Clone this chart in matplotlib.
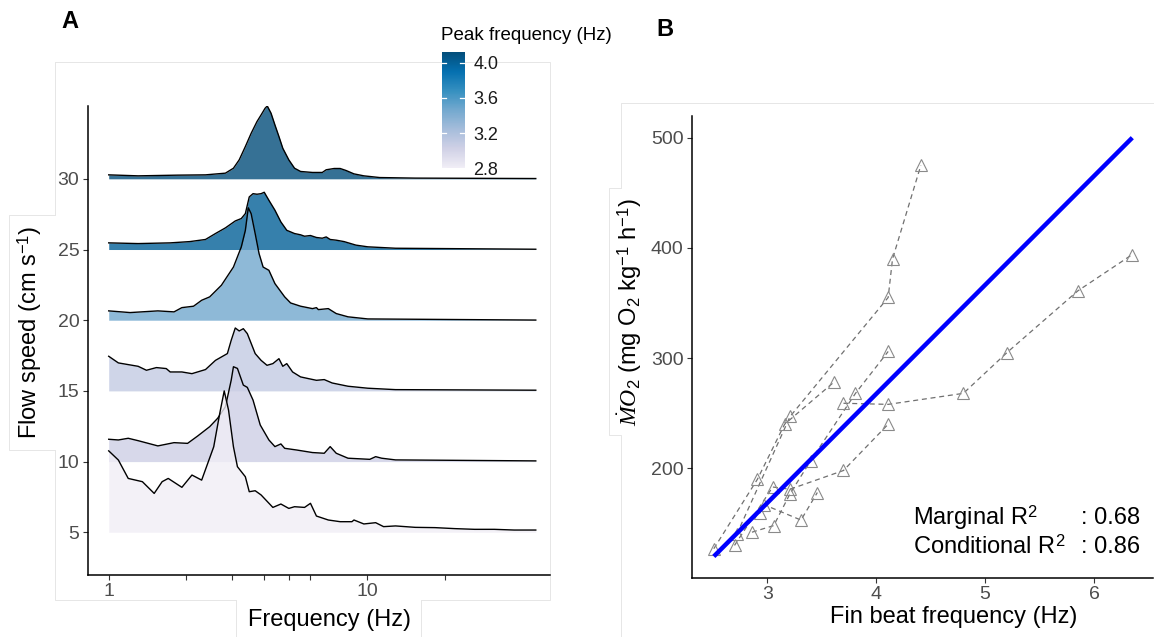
import matplotlib
matplotlib.use("Agg")
import matplotlib.pyplot as plt
import numpy as np
from matplotlib.colors import LinearSegmentedColormap, Normalize
from matplotlib.cm import ScalarMappable
from matplotlib.ticker import FixedLocator, FixedFormatter, NullFormatter
from matplotlib.lines import Line2D

plt.rcParams['font.family'] = ['Liberation Sans', 'DejaVu Sans']
plt.rcParams['mathtext.fontset'] = 'custom'
plt.rcParams['mathtext.rm'] = 'Liberation Sans'
plt.rcParams['mathtext.it'] = 'Liberation Serif:italic'
plt.rcParams['mathtext.bf'] = 'Liberation Sans:bold'

# ---------------- Panel A data: power spectra per flow speed ----------------
speeds = [30, 25, 20, 15, 10, 5]
peak_freq = [4.12, 4.00, 3.47, 3.09, 3.04, 2.80]

freq_30 = [1.00, 1.30, 1.85, 2.37, 2.83, 3.04, 3.20, 3.38, 3.56, 3.75, 3.89, 4.03, 4.11, 4.25, 4.40,
           4.56, 4.72, 4.98, 5.24, 5.53, 6.15, 6.71, 6.95, 7.46, 7.87, 8.29, 8.90, 9.72, 11.19, 15.37, 45.0]
power_30 = [0.28, 0.21, 0.26, 0.28, 0.40, 0.75, 1.34, 2.28, 3.22, 4.05, 4.52, 4.99, 5.15, 4.64, 3.81,
            2.99, 2.16, 1.34, 0.75, 0.52, 0.45, 0.45, 0.64, 0.73, 0.73, 0.59, 0.35, 0.21, 0.09, 0.05, 0.02]

freq_25 = [1.00, 1.30, 1.73, 2.06, 2.37, 2.59, 2.83, 3.09, 3.26, 3.38, 3.50, 3.62, 3.75, 3.89, 4.00,
           4.17, 4.40, 4.64, 4.89, 5.24, 5.53, 5.73, 6.04, 6.37, 6.71, 6.95, 7.20, 7.60, 8.15, 9.06,
           10.07, 12.89, 45.0]
power_25 = [0.47, 0.42, 0.47, 0.56, 0.71, 1.13, 1.53, 2.02, 2.19, 2.54, 3.72, 3.95, 3.91, 3.95, 4.05,
            3.48, 2.78, 1.95, 1.36, 1.13, 1.04, 0.94, 0.99, 0.85, 0.80, 0.89, 0.71, 0.66, 0.56, 0.31,
            0.19, 0.09, 0.02]

freq_20 = [1.00, 1.21, 1.55, 1.79, 1.92, 2.13, 2.29, 2.46, 2.73, 3.04, 3.26, 3.38, 3.47, 3.56, 3.69,
           3.82, 3.96, 4.17, 4.40, 4.80, 5.06, 5.53, 6.15, 6.37, 6.48, 7.08, 7.60, 8.44, 10.07, 45.0]
power_20 = [0.66, 0.54, 0.66, 0.59, 0.89, 0.99, 1.41, 1.65, 2.47, 3.76, 5.18, 6.35, 7.95, 7.53, 6.12,
            4.71, 3.76, 3.53, 2.59, 1.65, 1.22, 0.99, 0.82, 0.89, 0.75, 0.82, 0.47, 0.24, 0.09, 0.01]

freq_15 = [1.00, 1.09, 1.30, 1.40, 1.53, 1.67, 1.73, 1.92, 2.10, 2.37, 2.59, 2.88, 2.98, 3.09, 3.20,
           3.32, 3.44, 3.69, 3.89, 4.10, 4.32, 4.56, 4.72, 4.89, 5.15, 5.53, 5.93, 6.37, 6.83, 7.33,
           8.44, 10.07, 12.89, 45.0]
power_15 = [2.45, 1.98, 1.74, 1.46, 1.65, 1.58, 1.34, 1.34, 1.22, 1.51, 2.16, 2.64, 3.58, 4.45, 4.24,
            4.40, 4.05, 2.64, 2.16, 1.81, 1.93, 2.28, 1.74, 1.93, 1.34, 0.99, 0.87, 0.75, 0.80, 0.56,
            0.33, 0.19, 0.09, 0.05]

freq_10 = [1.00, 1.09, 1.19, 1.30, 1.55, 1.79, 2.02, 2.21, 2.46, 2.64, 2.83, 2.98, 3.04, 3.15, 3.32,
           3.44, 3.62, 3.86, 4.17, 4.40, 4.64, 4.80, 5.34, 6.15, 6.83, 7.20, 7.60, 8.44, 10.25, 10.80,
           11.39, 12.89, 45.0]
power_10 = [1.58, 1.53, 1.65, 1.48, 1.11, 1.34, 1.29, 1.81, 2.47, 3.06, 3.88, 5.76, 6.71, 6.59, 5.41,
            5.25, 4.35, 2.59, 1.53, 1.06, 1.25, 0.94, 0.82, 0.64, 0.59, 1.06, 0.59, 0.24, 0.16, 0.35,
            0.24, 0.12, 0.05]

freq_5 = [1.00, 1.09, 1.19, 1.35, 1.50, 1.61, 1.70, 1.92, 2.10, 2.29, 2.55, 2.69, 2.80, 2.91, 3.04,
          3.15, 3.38, 3.50, 3.69, 3.89, 4.32, 4.64, 4.98, 5.24, 5.73, 6.04, 6.37, 7.08, 7.87, 8.74,
          8.90, 9.72, 10.80, 11.59, 12.89, 15.37, 18.33, 21.87, 26.08, 31.10, 37.10, 45.0]
power_5 = [5.76, 5.11, 3.81, 3.58, 2.75, 3.58, 3.81, 3.18, 4.05, 3.69, 6.05, 8.40, 10.0, 8.64, 6.05,
           4.64, 3.93, 2.87, 2.94, 2.64, 1.76, 2.00, 1.69, 1.81, 1.76, 2.05, 1.15, 0.87, 0.75, 0.75,
           0.87, 0.59, 0.68, 0.40, 0.45, 0.35, 0.33, 0.26, 0.21, 0.21, 0.16, 0.16]

spectra_freq = [freq_30, freq_25, freq_20, freq_15, freq_10, freq_5]
spectra_power = [power_30, power_25, power_20, power_15, power_10, power_5]

a_yticks = [5, 10, 15, 20, 25, 30]
a_xticks = [1, 10]
a_xtick_labels = ["1", "10"]
a_minor_xticks = [2, 3, 4, 5, 6, 20]
cbar_ticks = [2.8, 3.2, 3.6, 4.0]

# ---------------- Panel B data: MO2 vs fin beat frequency per fish ----------------
fish_fbf = [
    [2.51, 2.91, 3.16, 3.61],
    [2.72, 3.21, 4.11, 4.15, 4.41],
    [2.70, 3.05, 3.21, 3.70, 4.11],
    [2.86, 3.06, 3.21, 3.40, 3.81, 4.11],
    [2.93, 2.97, 3.31, 3.46],
    [3.70, 4.11, 4.80, 5.20, 5.85, 6.35],
]
fish_mo2 = [
    [127, 190, 240, 278],
    [140, 247, 355, 390, 475],
    [130, 183, 181, 198, 240],
    [142, 148, 177, 207, 268, 306],
    [159, 167, 153, 178],
    [259, 258, 268, 305, 361, 394],
]
fit_fbf = [2.51, 6.35]
fit_mo2 = [120, 500]
b_xticks = [3, 4, 5, 6]
b_yticks = [200, 300, 400, 500]
marginal_r2 = 0.68
conditional_r2 = 0.86

# ---------------- Figure ----------------
W, H = 1154, 637
fig = plt.figure(figsize=(W / 100, H / 100), dpi=100)


def fx(px):
    return px / W


def fy(py):
    return 1 - py / H


frame_c = '#e6e6e6'


def fline(xs, ys):
    fig.add_artist(Line2D([fx(x) for x in xs], [fy(y) for y in ys], color=frame_c, lw=0.7, zorder=0))


# faint composition frames
fline([55.4, 549.6, 549.6, 421], [62.3, 62.3, 600, 600])
fline([236, 55.4, 55.4], [600, 600, 450])
fline([55.4, 55.4], [215, 62.3])
fline([55.4, 8.7, 8.7, 55.4], [215, 215, 450, 450])
fline([236, 236], [600, 640])
fline([421, 421], [600, 640])
fline([1160, 620.5, 620.5], [103, 103, 188])
fline([620.5, 608.8, 608.8, 620.5, 620.5], [188, 188, 435, 435, 640])

pub = ['#F1EEF6', '#D0D1E6', '#A6BDDB', '#74A9CF', '#3690C0', '#0570B0', '#034E7B']
cmap = LinearSegmentedColormap.from_list('pubu', pub)
norm = Normalize(vmin=2.8, vmax=4.12)

tick_grey = '#4d4d4d'

# ---------------- Panel A ----------------
axA = fig.add_axes([fx(87.8), fy(575), fx(549.6) - fx(87.8), fy(106) - fy(575)])
for i, (sp, pk, fr, pw) in enumerate(zip(speeds, peak_freq, spectra_freq, spectra_power)):
    fr = np.array(fr)
    top = sp + np.array(pw)
    axA.fill_between(fr, sp, top, color=cmap(norm(pk)), alpha=0.8, lw=0, zorder=2 + 2 * i)
    axA.plot(fr, top, color='black', lw=1.0, zorder=3 + 2 * i)

axA.set_xscale('log')
axA.set_xlim(0.83, 50.9)
axA.set_ylim(1.98, 35.15)
axA.xaxis.set_major_locator(FixedLocator(a_xticks))
axA.xaxis.set_major_formatter(FixedFormatter(a_xtick_labels))
axA.xaxis.set_minor_locator(FixedLocator(a_minor_xticks))
axA.xaxis.set_minor_formatter(NullFormatter())
axA.set_yticks(a_yticks)
axA.set_yticklabels([str(v) for v in a_yticks])
for s in ['top', 'right']:
    axA.spines[s].set_visible(False)
for s in ['left', 'bottom']:
    axA.spines[s].set_linewidth(1.1)
axA.tick_params(which='both', length=3.5, width=0.8, color='#333333', labelcolor=tick_grey,
                labelsize=14, pad=2.5)
axA.patch.set_alpha(0)

fig.text(fx(30), fy(332), 'Flow speed (cm s$^{-1}$)', rotation=90, ha='center', va='center', fontsize=17)
fig.text(fx(329), fy(620), 'Frequency (Hz)', ha='center', va='center', fontsize=17)
fig.text(fx(70), fy(21), 'A', ha='center', va='center', fontsize=17, fontweight='bold')

# colorbar
cax = fig.add_axes([fx(441.7), fy(168.3), fx(465) - fx(441.7), fy(52.3) - fy(168.3)])
cb = fig.colorbar(ScalarMappable(norm=norm, cmap=cmap), cax=cax, ticks=cbar_ticks)
cb.outline.set_visible(False)
cb.ax.tick_params(length=0, labelsize=13, pad=6, labelcolor='#1a1a1a')
cb.ax.set_yticklabels(['%.1f' % t for t in cbar_ticks])
for t in cbar_ticks:
    cb.ax.axhline(t, xmin=0, xmax=0.2, color='white', lw=0.9)
    cb.ax.axhline(t, xmin=0.8, xmax=1.0, color='white', lw=0.9)
fig.text(fx(440.7), fy(36), 'Peak frequency (Hz)', ha='left', va='center', fontsize=13.5)

# ---------------- Panel B ----------------
axB = fig.add_axes([fx(692), fy(577.7), fx(1153) - fx(692), fy(116) - fy(577.7)])
for xs, ys in zip(fish_fbf, fish_mo2):
    axB.plot(xs, ys, ls=(0, (4, 3)), color='#707070', lw=0.9, zorder=2)
    axB.plot(xs, ys, ls='none', marker='^', mfc='none', mec='#8a8a8a', ms=8.5, mew=0.8, zorder=3)
axB.plot(fit_fbf, fit_mo2, color='#0000FF', lw=3.2, solid_capstyle='butt', zorder=4)

axB.set_xlim(2.31, 6.54)
axB.set_ylim(100.7, 519.7)
axB.set_xticks(b_xticks)
axB.set_yticks(b_yticks)
for s in ['top', 'right']:
    axB.spines[s].set_visible(False)
for s in ['left', 'bottom']:
    axB.spines[s].set_linewidth(1.1)
axB.tick_params(length=3.5, width=0.8, color='#333333', labelcolor=tick_grey, labelsize=14, pad=2.5)
axB.patch.set_alpha(0)

axB.text(0.4787, 0.13, 'Marginal R$^2$', transform=axB.transAxes, ha='left', va='center', fontsize=17)
axB.text(0.843, 0.13, ': %.2f' % marginal_r2, transform=axB.transAxes, ha='left', va='center', fontsize=17)
axB.text(0.4787, 0.0671, 'Conditional R$^2$', transform=axB.transAxes, ha='left', va='center', fontsize=17)
axB.text(0.843, 0.0671, ': %.2f' % conditional_r2, transform=axB.transAxes, ha='left', va='center', fontsize=17)

fig.text(fx(954), fy(617), 'Fin beat frequency (Hz)', ha='center', va='center', fontsize=17)
fig.text(fx(630), fy(312), r'$\dot{M}O_2$ (mg O$_2$ kg$^{-1}$ h$^{-1}$)', rotation=90,
         ha='center', va='center', fontsize=17)
fig.text(fx(665), fy(30), 'B', ha='center', va='center', fontsize=17, fontweight='bold')

fig.savefig('out.png', dpi=100, facecolor='white')
